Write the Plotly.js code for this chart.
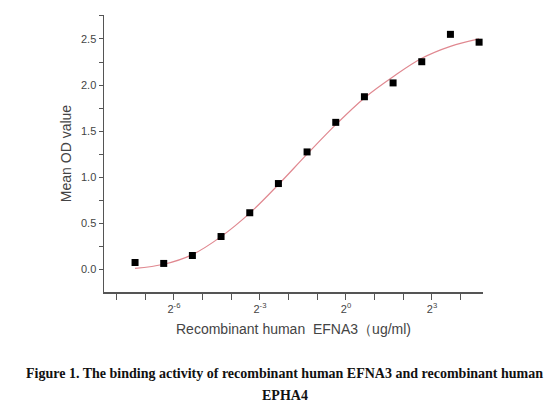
<!DOCTYPE html>
<html>
<head>
<meta charset="utf-8">
<script src="https://cdn.plot.ly/plotly-3.0.1.min.js"></script>
<style>
  body { margin: 0; background: #fff; }
  #plotDiv { width: 555px; height: 410px; }
</style>
</head>
<body>
<div id="plotDiv"></div>
<script>
// concentrations (ug/ml), 2-fold dilution
const conc = [0.0061, 0.0122, 0.0244, 0.0488, 0.0977, 0.1953, 0.3906, 0.7813, 1.5625, 3.125, 6.25, 12.5, 25]
const od = [0.074, 0.064, 0.150, 0.356, 0.614, 0.931, 1.274, 1.595, 1.873, 2.023, 2.253, 2.550, 2.465]
// fitted curve, read at the same concentrations
const fitOd = [0.01, 0.055, 0.16, 0.355, 0.61, 0.92, 1.25, 1.57, 1.86, 2.09, 2.29, 2.42, 2.50]

const labelExp = [-6, -3, 0, 3]
const labelText = ['2<sup>-6</sup>', '2<sup>-3</sup>', '2<sup>0</sup>', '2<sup>3</sup>']
const minorExp = [-8, -7, -5, -4, -2, -1, 1, 2, 4]

const axisColor = '#555'
const tickFont = {family: 'Liberation Sans, Arial', size: 11, color: '#444'}
const titleFont = {family: 'Liberation Sans, Arial', size: 14, color: '#444'}

const trace_fit = {
	x: conc,
	y: fitOd,
	type: 'scatter',
	mode: 'lines',
	line: {color: '#e08890', width: 1.2, shape: 'spline'},
	hoverinfo: 'skip'
}
const trace_pts = {
	x: conc,
	y: od,
	type: 'scatter',
	mode: 'markers',
	marker: {symbol: 'square', size: 7, color: '#000'}
}

const log2 = Math.log10(2)
const layout = {
	width: 555,
	height: 410,
	showlegend: false,
	plot_bgcolor: '#fff',
	paper_bgcolor: '#fff',
	margin: {l: 104, r: 72, t: 15, b: 118},
	xaxis: {
		type: 'log',
		range: [-8.44 * log2, 4.78 * log2],
		tickmode: 'array',
		tickvals: labelExp.map(e => 2 ** e),
		ticktext: labelText,
		ticks: 'outside',
		ticklen: 6,
		tickcolor: axisColor,
		minor: {tickmode: 'array', tickvals: minorExp.map(e => 2 ** e), ticks: 'outside', ticklen: 6, tickcolor: axisColor},
		showline: true,
		linecolor: axisColor,
		linewidth: 1.5,
		showgrid: false,
		zeroline: false,
		tickfont: tickFont,
		title: {text: 'Recombinant human  EFNA3\uff08ug/ml)', font: titleFont, standoff: 10}
	},
	yaxis: {
		range: [-0.246, 2.76],
		tickvals: [0, 0.5, 1, 1.5, 2, 2.5],
		ticktext: ['0.0', '0.5', '1.0', '1.5', '2.0', '2.5'],
		ticks: 'outside',
		ticklen: 4,
		tickcolor: axisColor,
		minor: {dtick: 0.25, ticks: 'outside', ticklen: 4, tickcolor: axisColor},
		showline: true,
		linecolor: axisColor,
		linewidth: 1.5,
		showgrid: false,
		zeroline: false,
		tickfont: tickFont,
		title: {text: 'Mean OD value', font: titleFont, standoff: 6}
	},
	annotations: [
		{
			text: '<b>Figure 1. The binding activity of recombinant human EFNA3 and recombinant human</b>',
			xref: 'paper', yref: 'paper', x: 0.477, y: -0.295,
			xanchor: 'center', yanchor: 'middle', showarrow: false,
			font: {family: 'Liberation Serif, Times New Roman', size: 14, color: '#111'}
		},
		{
			text: '<b>EPHA4</b>',
			xref: 'paper', yref: 'paper', x: 0.477, y: -0.374,
			xanchor: 'center', yanchor: 'middle', showarrow: false,
			font: {family: 'Liberation Serif, Times New Roman', size: 14, color: '#111'}
		}
	]
}
const config = {displayModeBar: false, staticPlot: true}
Plotly.newPlot('plotDiv', [trace_fit, trace_pts], layout, config)
</script>
</body>
</html>
